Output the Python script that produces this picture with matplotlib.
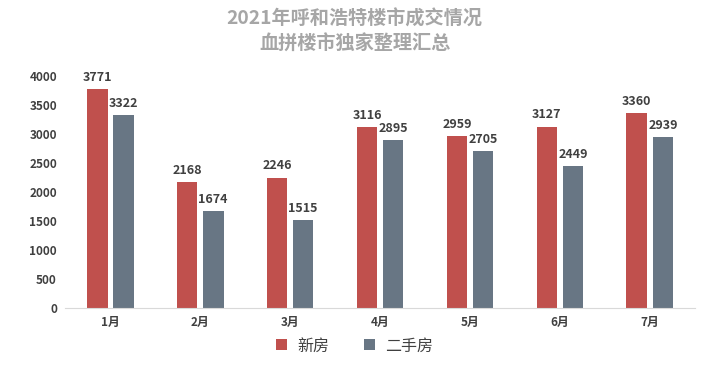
import matplotlib.pyplot as plt
import numpy as np

plt.rcParams['font.family'] = ['Noto Sans CJK SC', 'DejaVu Sans']

months = ["1月", "2月", "3月", "4月", "5月", "6月", "7月"]
new_house = [3771, 2168, 2246, 3116, 2959, 3127, 3360]
second_hand = [3322, 1674, 1515, 2895, 2705, 2449, 2939]
series_names = ["新房", "二手房"]
colors = ["#c0504d", "#687684"]
text_color = "#404040"

fig = plt.figure(figsize=(7.09, 3.72), dpi=100)
ax = fig.add_axes([0.092, 0.172, 0.888, 0.624])

x = np.arange(len(months))
width = 0.23
offset = 0.145

for vals, off, color, name in zip([new_house, second_hand], [-offset, offset], colors, series_names):
    rects = ax.bar(x + off, vals, width, color=color, label=name)
    for rect in rects:
        h = rect.get_height()
        ax.text(rect.get_x() + rect.get_width() / 2, h + 90, f"{int(h)}",
                ha="center", va="bottom", fontsize=9, fontweight="bold", color=text_color)

ax.set_xlim(-0.5, len(months) - 0.5)
ax.set_ylim(0, 4000)
ax.set_yticks(np.arange(0, 4001, 500))
ax.set_xticks(x)
ax.set_xticklabels(months)
ax.tick_params(axis="both", length=0, labelsize=8.5, colors=text_color, pad=6)
for lbl in ax.get_xticklabels() + ax.get_yticklabels():
    lbl.set_fontweight("bold")
for side in ["top", "right", "left"]:
    ax.spines[side].set_visible(False)
ax.spines["bottom"].set_color("#d9d9d9")

fig.text(0.5, 0.95, "2021年呼和浩特楼市成交情况", ha="center", va="center",
         fontsize=13.8, fontweight="bold", color="#a6a6a6")
fig.text(0.5, 0.88, "血拼楼市独家整理汇总", ha="center", va="center",
         fontsize=13.8, fontweight="bold", color="#a6a6a6")

fig.legend(loc="center", bbox_to_anchor=(0.5, 0.07), ncol=2, frameon=False,
           fontsize=11.5, handlelength=0.7, handleheight=0.7, columnspacing=2.2,
           handletextpad=0.6, labelcolor=text_color)

plt.savefig("out.png", dpi=100)
